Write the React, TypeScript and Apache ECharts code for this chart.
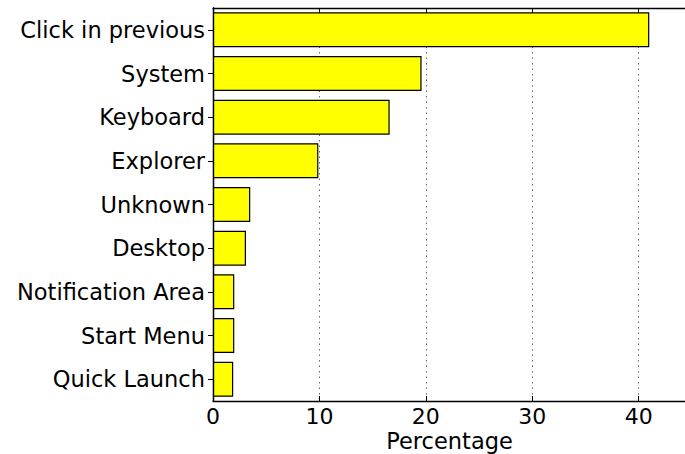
import React, { useEffect, useRef } from "react";
import * as echarts from "echarts";

const categories = [
  "Click in previous",
  "System",
  "Keyboard",
  "Explorer",
  "Unknown",
  "Desktop",
  "Notification Area",
  "Start Menu",
  "Quick Launch",
];
const values = [41.0, 19.6, 16.6, 9.9, 3.5, 3.1, 2.0, 2.0, 1.9];
const xMax = 44.45;
const xTickStep = 10;
const xLabel = "Percentage";

export default function App() {
  const ref = useRef<HTMLDivElement>(null);
  useEffect(() => {
    if (!ref.current) return;
    const chart = echarts.init(ref.current, null, { renderer: "svg" });
    const font = "DejaVu Sans";
    const axisLine = { show: true, lineStyle: { color: "#000", width: 1.3 } };
    chart.setOption({
      animation: false,
      grid: {
        left: 213,
        top: 8,
        width: 473,
        height: 393,
        containLabel: false,
        outerBoundsMode: "none",
      },
      xAxis: [
        {
          type: "value",
          min: 0,
          max: xMax,
          interval: xTickStep,
          position: "bottom",
          name: xLabel,
          nameLocation: "middle",
          nameGap: 28,
          nameMoveOverlap: false,
          nameTextStyle: {
            fontFamily: font,
            fontSize: 22.5,
            lineHeight: 24,
            color: "#000",
            verticalAlign: "top",
          },
          axisLine,
          axisTick: { show: true, inside: true, length: 5, lineStyle: { color: "#000" } },
          axisLabel: {
            fontFamily: font,
            fontSize: 22,
            lineHeight: 22,
            color: "#000",
            margin: 4,
            showMaxLabel: false,
            formatter: (v: number) => (v % xTickStep === 0 ? String(v) : ""),
          },
          splitLine: { show: true, lineStyle: { color: "#000", type: [1.5, 4], width: 1, opacity: 0.6 } },
        },
        {
          type: "value",
          min: 0,
          max: xMax,
          interval: xTickStep,
          position: "top",
          axisLine,
          axisTick: { show: true, inside: true, length: 5, lineStyle: { color: "#000" } },
          axisLabel: { show: false },
          splitLine: { show: false },
        },
      ],
      yAxis: [
        {
          type: "category",
          data: categories,
          inverse: true,
          position: "left",
          axisLine,
          axisTick: { show: true, inside: true, alignWithLabel: true, length: 5, lineStyle: { color: "#000" } },
          axisLabel: { fontFamily: font, fontSize: 22.5, color: "#000", margin: 8 },
          splitLine: { show: false },
        },
        {
          type: "category",
          data: categories,
          inverse: true,
          position: "right",
          axisLine,
          axisTick: { show: true, inside: true, alignWithLabel: true, length: 5, lineStyle: { color: "#000" } },
          axisLabel: { show: false },
        },
      ],
      series: [
        {
          type: "bar",
          data: values,
          xAxisIndex: 0,
          yAxisIndex: 0,
          barCategoryGap: "20%",
          itemStyle: { color: "#ffff00", borderColor: "#000", borderWidth: 1.2 },
        },
      ],
    });
    return () => chart.dispose();
  }, []);
  return (
    <div
      ref={ref}
      style={{ position: "fixed", left: 0, top: 0, width: 685, height: 454, background: "#fff" }}
    />
  );
}
